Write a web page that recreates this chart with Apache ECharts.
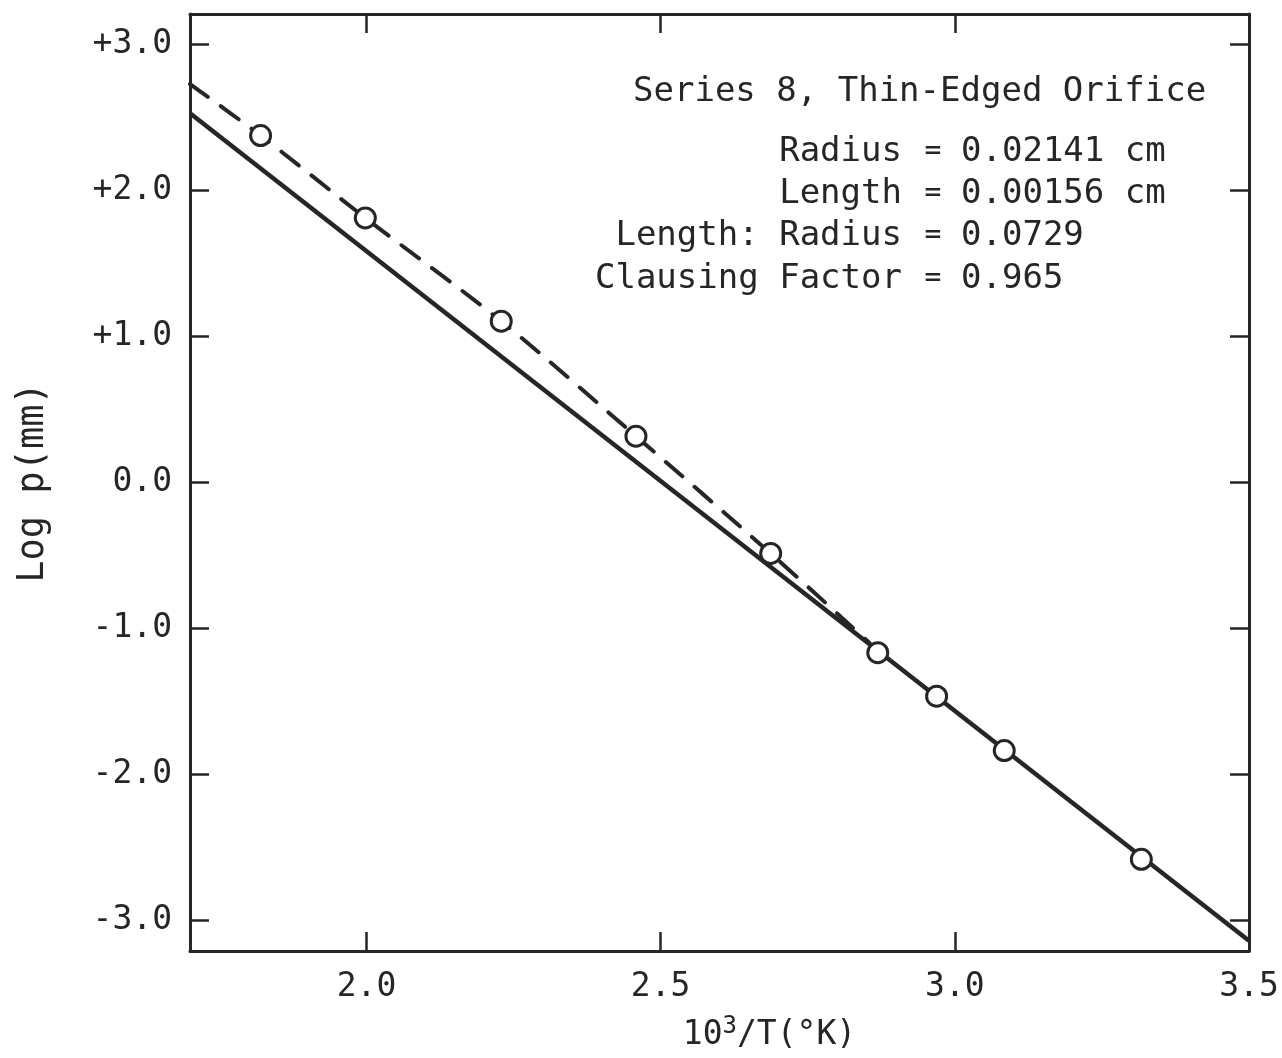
<!DOCTYPE html>
<html>
<head>
<meta charset="UTF-8">
<title>Series 8, Thin-Edged Orifice</title>
<script src="https://cdn.jsdelivr.net/npm/echarts@6/dist/echarts.min.js"></script>
<style>
  html, body { margin: 0; padding: 0; background: #fff; }
  #main { width: 1282px; height: 1058px; }
</style>
</head>
<body>
<div id="main"></div>
<script>
// measured points (10^3/T, log p)
var pointX = [1.820, 1.998, 2.229, 2.458, 2.687, 2.869, 2.969, 3.084, 3.317];
var pointY = [2.377, 1.813, 1.105, 0.317, -0.486, -1.166, -1.464, -1.837, -2.582];

// solid straight line
var solidX = [1.70, 3.50];
var solidY = [2.53, -3.14];

// dashed curve through the upper points
var dashX = [1.70, 1.820, 1.998, 2.229, 2.458, 2.687, 2.855];
var dashY = [2.73, 2.377, 1.813, 1.105, 0.317, -0.486, -1.10];

var xTicks = [2.0, 2.5, 3.0, 3.5];
var yTicks = [-3, -2, -1, 0, 1, 2, 3];

var titleText = 'Series 8, Thin-Edged Orifice';
var labelLines = [
  ['Radius', '0.02141 cm'],
  ['Length', '0.00156 cm'],
  ['Length: Radius', '0.0729'],
  ['Clausing Factor', '0.965']
];

function zip(xs, ys) {
  return xs.map(function (x, i) { return [x, ys[i]]; });
}

var ink = '#262626';
var font = 'DejaVu Sans Mono';

function xAxisCfg(pos, showLabel) {
  return {
    type: 'value', position: pos, min: 1.7, max: 3.5,
    splitLine: { show: false },
    axisLine: { show: true, onZero: false, lineStyle: { color: ink, width: 3 } },
    axisTick: { show: true, inside: true, length: 19, customValues: xTicks, lineStyle: { color: ink, width: 2.5 } },
    axisLabel: {
      show: showLabel, customValues: xTicks, margin: 20,
      color: ink, fontFamily: font, fontSize: 33,
      formatter: function (v) { return v.toFixed(1); }
    }
  };
}

function yAxisCfg(pos, showLabel) {
  return {
    type: 'value', position: pos, min: -3.21, max: 3.21,
    splitLine: { show: false },
    axisLine: { show: true, onZero: false, lineStyle: { color: ink, width: 3 } },
    axisTick: { show: true, inside: true, length: 19, customValues: yTicks, lineStyle: { color: ink, width: 2.5 } },
    axisLabel: {
      show: showLabel, customValues: yTicks, margin: 18,
      color: ink, fontFamily: font, fontSize: 33,
      formatter: function (v) {
        var s = Math.abs(v).toFixed(1);
        if (v > 0.001) return '+' + s;
        if (v < -0.001) return '-' + s;
        return '0.0';
      }
    }
  };
}

var xMain = xAxisCfg('bottom', true);
xMain.name = '{t|10}{s|3}{t|/T(°K)}';
xMain.nameLocation = 'middle';
xMain.nameGap = 64;
xMain.nameTextStyle = {
  padding: [0, 0, 0, 100],
  rich: {
    t: { fontFamily: font, fontSize: 33, color: ink },
    s: { fontFamily: font, fontSize: 24, color: ink, verticalAlign: 'top', padding: [0, 0, 16, 0] }
  }
};

var yMain = yAxisCfg('left', true);
yMain.name = 'Log p(mm)';
yMain.nameLocation = 'middle';
yMain.nameGap = 138;
yMain.nameTextStyle = { fontFamily: font, fontSize: 37, color: ink };

var annFont = '34px "DejaVu Sans Mono"';
var graphics = [{
  type: 'text', x: 633, y: 92,
  style: { text: titleText, font: annFont, fill: ink, verticalAlign: 'middle' }
}];
var rowY = [152, 194, 236, 279];
labelLines.forEach(function (row, i) {
  graphics.push({
    type: 'text', x: 902, y: rowY[i],
    style: { text: row[0], font: annFont, fill: ink, align: 'right', verticalAlign: 'middle' }
  });
  graphics.push({
    type: 'text', x: 933, y: rowY[i],
    style: { text: '=', font: '28px "DejaVu Sans Mono"', fill: ink, align: 'center', verticalAlign: 'middle' }
  });
  graphics.push({
    type: 'text', x: 961, y: rowY[i],
    style: { text: row[1], font: annFont, fill: ink, verticalAlign: 'middle' }
  });
});

var chart = echarts.init(document.getElementById('main'));
chart.setOption({
  backgroundColor: '#fff',
  animation: false,
  grid: { left: 190, right: 33, top: 14, bottom: 107 },
  xAxis: [xMain, xAxisCfg('top', false)],
  yAxis: [yMain, yAxisCfg('right', false)],
  graphic: graphics,
  series: [
    {
      name: 'solid', type: 'line', data: zip(solidX, solidY),
      showSymbol: false, lineStyle: { color: ink, width: 4.5 }, z: 2
    },
    {
      name: 'dashed', type: 'line', data: zip(dashX, dashY), smooth: 0.3,
      showSymbol: false, lineStyle: { color: ink, width: 4, type: [22, 16], cap: 'round' }, z: 2
    },
    {
      name: 'points', type: 'scatter', data: zip(pointX, pointY),
      symbol: 'circle', symbolSize: 20,
      itemStyle: { color: '#fff', borderColor: ink, borderWidth: 3, opacity: 1 }, z: 5
    }
  ]
});
</script>
</body>
</html>
